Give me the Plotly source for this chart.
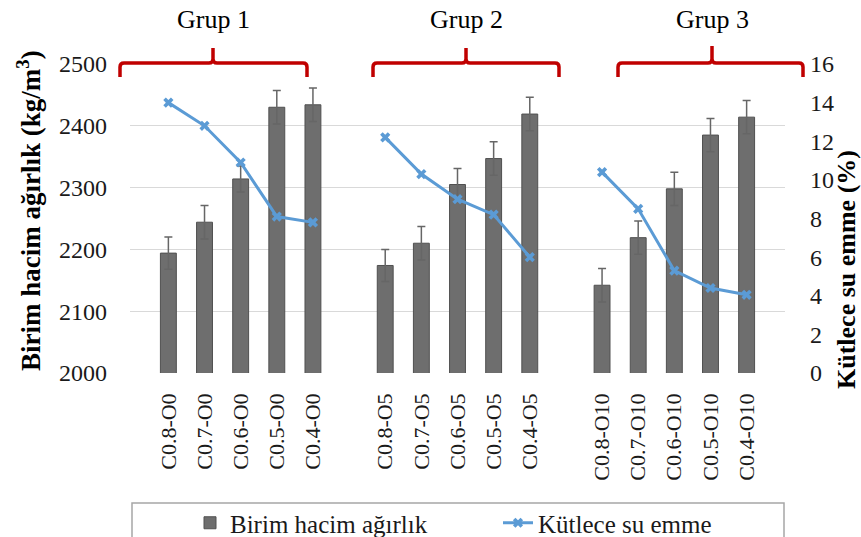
import plotly.graph_objects as go

# ---- data ----
categories = ["C0.8-O0", "C0.7-O0", "C0.6-O0", "C0.5-O0", "C0.4-O0", " ",
              "C0.8-O5", "C0.7-O5", "C0.6-O5", "C0.5-O5", "C0.4-O5", "  ",
              "C0.8-O10", "C0.7-O10", "C0.6-O10", "C0.5-O10", "C0.4-O10"]
birim_hacim = [2194, 2244, 2314, 2430, 2434, None,
               2174, 2210, 2305, 2347, 2419, None,
               2142, 2219, 2298, 2385, 2414]
birim_err = [26, 27, 21, 27, 27, 0,
             26, 27, 26, 27, 27, 0,
             27, 27, 27, 27, 27]
kutlece = [14.0, 12.8, 10.9, 8.1, 7.8, None,
           12.2, 10.3, 9.0, 8.2, 6.0, None,
           10.4, 8.5, 5.3, 4.4, 4.05]
group_labels = ["Grup 1", "Grup 2", "Grup 3"]
tick_labels = [c for c in categories if c.strip()]

# ---- layout geometry (pixels) ----
W, H = 861, 537
L, R, T, B = 130, 76, 64, 164
PW, PH = W - L - R, H - T - B

def px(x):
    return (x - L) / PW

def py(y):
    return (H - B - y) / PH

FONT = "Liberation Serif"
RED = "#C00000"
BLUE = "#5B9BD5"
TXT = "#1a1a1a"

fig = go.Figure()
fig.add_trace(go.Bar(
    x=categories, y=birim_hacim, name="Birim hacim ağırlık",
    marker=dict(color="#6e6e6e", line=dict(color="#505050", width=1)),
    width=0.44,
    error_y=dict(type="data", array=birim_err, color="#666666", thickness=1.5, width=4),
    yaxis="y",
))
fig.add_trace(go.Scatter(
    x=categories, y=kutlece, name="Kütlece su emme", mode="lines+markers",
    line=dict(color=BLUE, width=3),
    marker=dict(symbol="x", size=9, color=BLUE),
    connectgaps=False, yaxis="y2",
))

# brackets (pixel geometry)
brackets = [(120, 307, 213, 63, 77, 48), (373, 559, 466, 63, 77, 48), (618, 803, 712, 63, 77, 46)]
shapes = []
for (x0, x1, xc, yt, yb, ytip) in brackets:
    r = 4
    pts = (f"M {px(x0)},{py(yb)} L {px(x0)},{py(yt + r)} "
           f"Q {px(x0)},{py(yt)} {px(x0 + r)},{py(yt)} "
           f"L {px(xc - r)},{py(yt)} Q {px(xc)},{py(yt)} {px(xc)},{py(yt - r)} "
           f"L {px(xc)},{py(ytip)} "
           f"M {px(xc)},{py(yt - r)} Q {px(xc)},{py(yt)} {px(xc + r)},{py(yt)} "
           f"L {px(x1 - r)},{py(yt)} Q {px(x1)},{py(yt)} {px(x1)},{py(yt + r)} "
           f"L {px(x1)},{py(yb)}")
    shapes.append(dict(type="path", xref="paper", yref="paper", path=pts,
                       line=dict(color=RED, width=3.5)))

# legend frame
shapes.append(dict(type="rect", xref="paper", yref="paper",
                   x0=px(132), x1=px(784), y0=py(503), y1=py(560),
                   line=dict(color="#a6a6a6", width=1.5), fillcolor="rgba(0,0,0,0)"))

annotations = []
for lab, (x0, x1, xc, *_rest) in zip(group_labels, brackets):
    annotations.append(dict(text=lab, x=px(xc), y=py(20), xref="paper", yref="paper",
                            showarrow=False, font=dict(family=FONT, size=26, color="black"),
                            xanchor="center", yanchor="middle"))
annotations.append(dict(text="<b>Birim hacim ağırlık (kg/m<sup>3</sup>)</b>", x=px(29), y=py(211),
                        xref="paper", yref="paper", showarrow=False, textangle=-90,
                        font=dict(family=FONT, size=27, color="black"),
                        xanchor="center", yanchor="middle"))
annotations.append(dict(text="<b>Kütlece su emme (%)</b>", x=px(846), y=py(270),
                        xref="paper", yref="paper", showarrow=False, textangle=-90,
                        font=dict(family=FONT, size=26, color="black"),
                        xanchor="center", yanchor="middle"))

fig.update_layout(
    width=W, height=H,
    margin=dict(l=L, r=R, t=T, b=B, autoexpand=False),
    plot_bgcolor="white", paper_bgcolor="white",
    font=dict(family=FONT, size=22, color=TXT),
    xaxis=dict(type="category", tickangle=-90, showgrid=False, showline=False,
               tickmode="array", tickvals=tick_labels, ticktext=tick_labels,
               ticks="", ticklabelstandoff=15,
               tickfont=dict(family=FONT, size=22, color=TXT)),
    yaxis=dict(range=[2000, 2500], dtick=100, showgrid=True, gridcolor="#d9d9d9",
               gridwidth=1.2, zeroline=False, showline=False, ticks="",
               ticklabelstandoff=22, tickfont=dict(family=FONT, size=24, color=TXT)),
    yaxis2=dict(range=[0, 16], dtick=2, overlaying="y", side="right", showgrid=False,
                zeroline=False, showline=False, ticks="", ticklabelstandoff=24,
                tickfont=dict(family=FONT, size=24, color=TXT)),
    legend=dict(orientation="h", x=px(190), y=py(523), xanchor="left", yanchor="middle",
                borderwidth=0, bgcolor="rgba(0,0,0,0)",
                font=dict(family=FONT, size=25, color=TXT),
                entrywidth=263, traceorder="normal"),
    shapes=shapes,
    annotations=annotations,
)

fig.write_html("out.html")
